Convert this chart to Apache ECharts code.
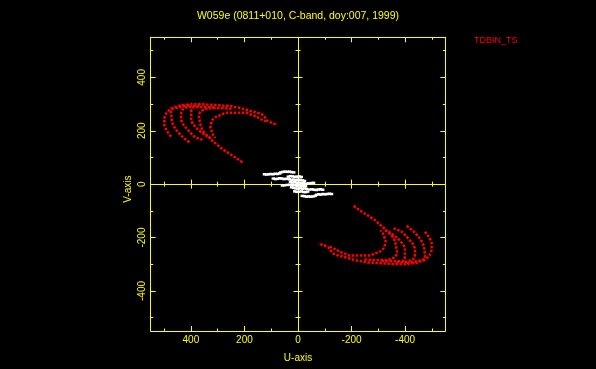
<!DOCTYPE html>
<html><head><meta charset="utf-8">
<script src="https://cdn.jsdelivr.net/npm/echarts@6/dist/echarts.min.js"></script>
<style>html,body{margin:0;padding:0;background:#000;}#c{width:596px;height:369px;}</style>
</head><body><div id="c"></div>
<script>
const chartTitle = 'W059e (0811+010, C-band, doy:007, 1999)';
const sourceLabel = 'TDBIN_TS';
const uName = 'U-axis';
const vName = 'V-axis';
const majorTicks = [-400, -200, 0, 200, 400];
const minorTicks = [-500, -300, -100, 100, 300, 500];

// red uv tracks (one half; the other half is the conjugate -u,-v)
const trackA = [[474,178],[488,197],[499,222],[499,244],[491,267],[480,278],[469,286],[455,290],[439,295],[418,297],[398,299],[379,299],[360,299],[342,298],[319,297],[301,296],[278,294],[256,293],[237,289],[218,286],[200,281],[181,275],[158,269],[137,263],[125,252],[113,237],[95,229],[76,222]];
const trackB = [[248,282],[274,284],[301,284],[327,284],[349,280],[364,271],[370,256],[368,241],[364,222],[357,203],[345,188],[330,173],[316,160],[301,147],[286,134],[268,122],[252,112],[231,98],[218,89],[207,81]];
const trackC = [[118,234],[140,244],[156,253],[177,261],[193,267],[218,267],[244,267],[268,267],[289,259],[305,253],[319,241],[324,229],[327,214],[324,203],[319,188],[308,173]];
const trackD = [[312,287],[338,289],[368,289],[394,286],[399,263],[399,241],[392,226],[380,211],[366,198],[349,185],[338,179],[324,173]];
const trackE = [[368,293],[398,291],[420,286],[432,278],[437,259],[436,241],[430,226],[418,211],[403,194],[387,178],[372,171],[357,166]];
const trackF = [[405,295],[432,291],[454,286],[474,278],[473,256],[469,229],[461,213],[450,197],[435,181],[418,166],[405,156]];

// white short-baseline points (one half; other half is conjugate)
const whiteHalf = [[125,37],[117,36],[109,37],[101,38],[93,37],[85,39],[77,38],[69,40],
  [64,44],[56,46],[48,47],[40,46],[32,47],[24,45],[16,44],
  [92,21],[84,19],[76,20],[68,22],[60,21],[52,19],[44,20],
  [36,28],[28,30],[20,29],[12,27],[4,28],[-4,29],[-12,27],
  [32,18],[24,16],[16,17],[8,15],[0,17],[-8,16],[-16,14],[-24,12],
  [28,8],[20,6],[12,7],[4,5],[-4,6],[-12,4],[-20,3],[-30,2],[-40,3],[-50,4],[-58,5]];

function conj(pts){ return pts.map(p => [-p[0], -p[1]]); }

const Y = '#ffff00', R = '#ff0000', W = '#ffffff';
const FONT = '"Liberation Sans", Arial, sans-serif';
const LIM = 550;

function ax(dim, position, o) {
  const base = {
    type: 'value', min: -LIM, max: LIM, gridIndex: 0, position: position,
    splitLine: {show: false},
    axisLabel: {show: false},
    axisLine: {show: false, onZero: false},
    axisTick: {show: false}
  };
  if (dim === 'x') base.inverse = true;
  return Object.assign(base, o);
}
function ticks(vals, len, inside) {
  return {show: true, inside: inside, length: len, customValues: vals, lineStyle: {color: Y, width: 1}};
}
const boxLine = {show: true, onZero: false, lineStyle: {color: Y, width: 1}};
const zeroLine = {show: true, onZero: true, onZeroAxisIndex: 0, lineStyle: {color: Y, width: 1}};
const zeroHidden = {show: false, onZero: true, onZeroAxisIndex: 0};

const xAxes = [
  ax('x', 'bottom', {axisLine: boxLine, axisTick: ticks(majorTicks, 5, true),
    axisLabel: {show: true, customValues: majorTicks, color: Y, fontSize: 10, margin: 4, fontFamily: FONT},
    name: uName, nameLocation: 'middle', nameGap: 22, nameTextStyle: {color: Y, fontSize: 10, fontFamily: FONT}}),
  ax('x', 'bottom', {axisTick: ticks(minorTicks, 2.5, true)}),
  ax('x', 'top', {axisLine: boxLine, axisTick: ticks(majorTicks, 5, true)}),
  ax('x', 'top', {axisTick: ticks(minorTicks, 2.5, true)}),
  ax('x', 'bottom', {axisLine: zeroLine, axisTick: ticks(majorTicks, 4.5, false)}),
  ax('x', 'bottom', {axisLine: zeroHidden, axisTick: ticks(majorTicks, 4.5, true)}),
  ax('x', 'bottom', {axisLine: zeroHidden, axisTick: ticks(minorTicks, 2.5, false)}),
  ax('x', 'bottom', {axisLine: zeroHidden, axisTick: ticks(minorTicks, 2.5, true)})
];
const yAxes = [
  ax('y', 'left', {axisLine: boxLine, axisTick: ticks(majorTicks, 5, true),
    axisLabel: {show: true, customValues: majorTicks, color: Y, fontSize: 10, margin: 3, rotate: 90, fontFamily: FONT},
    name: vName, nameLocation: 'middle', nameGap: 17, nameTextStyle: {color: Y, fontSize: 10, fontFamily: FONT, padding: [0, 10, 0, 0]}}),
  ax('y', 'left', {axisTick: ticks(minorTicks, 2.5, true)}),
  ax('y', 'right', {axisLine: boxLine, axisTick: ticks(majorTicks, 5, true)}),
  ax('y', 'right', {axisTick: ticks(minorTicks, 2.5, true)}),
  ax('y', 'left', {axisLine: zeroLine, axisTick: ticks(majorTicks, 4.5, false)}),
  ax('y', 'left', {axisLine: zeroHidden, axisTick: ticks(majorTicks, 4.5, true)}),
  ax('y', 'left', {axisLine: zeroHidden, axisTick: ticks(minorTicks, 2.5, false)}),
  ax('y', 'left', {axisLine: zeroHidden, axisTick: ticks(minorTicks, 2.5, true)})
];

const tracks = [trackA, trackB, trackC, trackD, trackE, trackF];
const series = [];
tracks.forEach(t => {
  [t, conj(t)].forEach(d => {
    series.push({type: 'line', xAxisIndex: 0, yAxisIndex: 0, data: d, smooth: 0.3,
      symbol: 'none', silent: true,
      lineStyle: {color: R, width: 2.5, type: [2.5, 1.5], opacity: 1}});
  });
});
series.push({type: 'scatter', xAxisIndex: 0, yAxisIndex: 0, data: whiteHalf.concat(conj(whiteHalf)),
  symbol: 'rect', symbolSize: [3.5, 2.5], itemStyle: {color: W, opacity: 1}, silent: true});

const chart = echarts.init(document.getElementById('c'), null, {renderer: 'canvas'});
chart.setOption({
  backgroundColor: '#000000',
  animation: false,
  title: [
    {text: chartTitle, left: 'center', top: 11, padding: 0, textStyle: {color: Y, fontSize: 10.5, fontWeight: 'normal', fontFamily: FONT}},
    {text: sourceLabel, left: 474, top: 36, padding: 0, textStyle: {color: R, fontSize: 9, fontWeight: 'normal', fontFamily: FONT}}
  ],
  grid: {left: 150.7, right: 150.7, top: 37.3, bottom: 38, outerBoundsMode: 'none', containLabel: false},
  xAxis: xAxes,
  yAxis: yAxes,
  series: series
});
</script></body></html>
